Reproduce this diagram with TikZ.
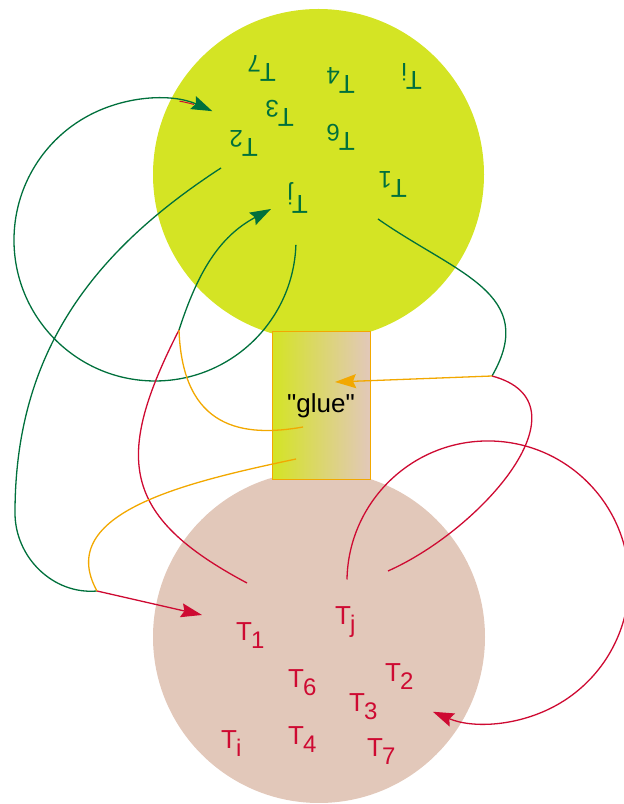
\documentclass[tikz,border=0pt]{standalone}
\usepackage{fontspec}
\newfontfamily\diagfont{Liberation Sans}
\usepackage{tikz}
\usetikzlibrary{arrows.meta}
\usepackage{xcolor}

\definecolor{treegreen}{RGB}{0,112,60}
\definecolor{treered}{RGB}{206,10,50}
\definecolor{glueorange}{RGB}{242,168,0}
\definecolor{topfill}{RGB}{212,228,36}
\definecolor{botfill}{RGB}{226,200,186}

\newcommand{\Tsub}[1]{T\kern-1pt\raisebox{-8pt}{\fontsize{24}{24}\selectfont #1}}

\begin{document}
\begin{tikzpicture}[
x=1pt,y=1pt,
>={Stealth[length=21pt,width=14pt,inset=3pt]},
gline/.style={draw=treegreen,line width=1.3pt},
rline/.style={draw=treered,line width=1.3pt},
oline/.style={draw=glueorange,line width=1.3pt},
lbl/.style={font=\diagfont\fontsize{26}{26}\selectfont,inner sep=0pt,anchor=base west}
]
\useasboundingbox (0,0) rectangle (624,804);

% the two trees and the glue between them
\node[circle,fill=topfill,minimum size=331pt,inner sep=0pt] (toptree) at (318.5,629.5) {};
\node[circle,fill=botfill,minimum size=332pt,inner sep=0pt] (bottree) at (319,167) {};
\node[draw=glueorange,line width=1pt,left color=topfill,right color=botfill,
minimum width=98pt,minimum height=148pt,inner sep=0pt,
font=\diagfont\fontsize{26}{26}\selectfont] (glue) at (321,398) {"glue"};

% bottom tree
\node[lbl,text=treered] (b1) at (236,163) {\Tsub{1}};
\node[lbl,text=treered] (bj) at (335,179) {\Tsub{j}};
\node[lbl,text=treered] (b6) at (288,116) {\Tsub{6}};
\node[lbl,text=treered] (b2) at (385,122) {\Tsub{2}};
\node[lbl,text=treered] (b3) at (349,92) {\Tsub{3}};
\node[lbl,text=treered] (bi) at (221,55) {\Tsub{i}};
\node[lbl,text=treered] (b4) at (288,59) {\Tsub{4}};
\node[lbl,text=treered] (b7) at (367,47) {\Tsub{7}};

% top tree, upside down
\begin{scope}[rotate around={180:(321.5,393.5)}]
\node[lbl,text=treegreen,transform shape] (t1) at (236,163) {\Tsub{1}};
\node[lbl,text=treegreen,transform shape] (tj) at (335,179) {\Tsub{j}};
\node[lbl,text=treegreen,transform shape] (t6) at (288,116) {\Tsub{6}};
\node[lbl,text=treegreen,transform shape] (t2) at (385,122) {\Tsub{2}};
\node[lbl,text=treegreen,transform shape] (t3) at (349,92) {\Tsub{3}};
\node[lbl,text=treegreen,transform shape] (ti) at (221,55) {\Tsub{i}};
\node[lbl,text=treegreen,transform shape] (t4) at (288,59) {\Tsub{4}};
\node[lbl,text=treegreen,transform shape] (t7) at (367,47) {\Tsub{7}};
\end{scope}

% meeting points and loose ends
\coordinate (j1) at (97,213);
\coordinate (j2) at (492,428);
\coordinate (j3) at (179,474);
\coordinate (gleft) at (15,291);
\coordinate (t2out) at (221,636);
\coordinate (t1out) at (378,585);
\coordinate (tjin) at (271,595);
\coordinate (gloop) at (295.9,559.1);
\coordinate (rloop) at (347,224.5);
\coordinate (bjout) at (388,233);
\coordinate (b1out) at (247,221);
\coordinate (b1in) at (202,189);
\coordinate (gluein) at (335,422);
\coordinate (glueup) at (303,377);
\coordinate (gluedown) at (296,345);

% loops
\draw[gline,->] (gloop) arc[start angle=-2,end angle=-294,radius=141];
\draw[rline,line width=1pt] (155,564) ++(80:141) arc[start angle=80,end angle=74,radius=141];
\draw[rline,->] (rloop) arc[start angle=179,end angle=-113,radius=141];

% green pieces
\draw[gline] (t2out) to[out=213,in=90] (gleft) to[out=-90,in=185] (j1);
\draw[gline] (t1out) to[out=-35,in=60,looseness=1.25] (j2);
\draw[gline,->] (j3) to[out=72,in=208] (tjin);

% red pieces
\draw[rline] (j2) to[out=-15,in=24,looseness=1.2] (bjout);
\draw[rline] (j3) to[out=243,in=152,looseness=1.4] (b1out);
\draw[rline,->] (j1) -- (b1in);

% orange pieces
\draw[oline,->] (j2) -- (gluein);
\draw[oline] (j3) to[out=-88,in=190,out distance=100pt,in distance=60pt] (glueup);
\draw[oline] (j1) to[out=119,in=192,out distance=90pt,in distance=110pt] (gluedown);

\end{tikzpicture}
\end{document}
